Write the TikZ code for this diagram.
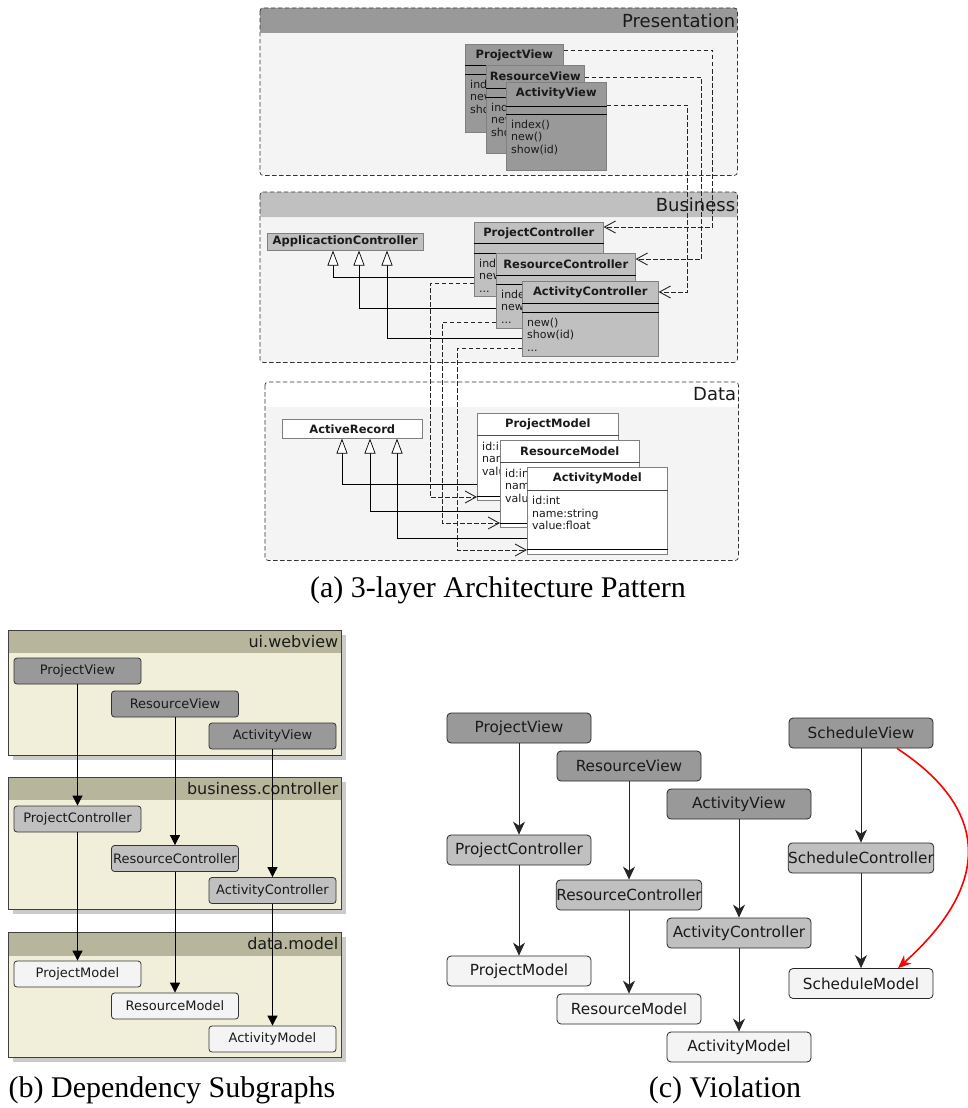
\documentclass[tikz,border=0pt]{standalone}
\usepackage{fontspec}
\setmainfont{DejaVu Sans}
\newfontfamily\captionfont{Liberation Serif}
\usetikzlibrary{arrows.meta,calc,shadows}

\definecolor{viewgray}{HTML}{999999}
\definecolor{ctrlgray}{HTML}{C0C0C0}
\definecolor{modelgray}{HTML}{F4F4F4}
\definecolor{layerbody}{HTML}{F4F4F4}
\definecolor{pkghead}{HTML}{B7B69C}
\definecolor{pkgbody}{HTML}{F1EED9}
\definecolor{pkgshadow}{HTML}{CBCBCB}
\definecolor{ink}{HTML}{1A1A1A}

% layer of the 3-tier class diagram: name, x, y, width, height, header colour, label
\newcommand\layerbox[7]{%
  \node[layerarea, minimum width=#4pt, minimum height=#5pt] (#1) at (#2,#3) {};
  \fill[#6, rounded corners=2pt] (#1.north west) rectangle ($(#1.north east)+(0,25)$);
  \node[layerlabel] (#1-label) at ($(#1.north east)+(-2,12.5)$) {#7};
  \draw[layerframe] (#1.north west) rectangle (#1.south east);
}
% UML class box: name, x, y, width, height, fill, class name
\newcommand\umlclass[7]{%
  \node[classbox, fill=#6, minimum width=#4pt, minimum height=#5pt] (#1) at (#2,#3) {};
  \node[classname] (#1-name) at ($(#1.north)+(0,11)$) {#7};
}
\newcommand\classrule[3][black]{%
  \draw[classsep, draw=#1] ($(#2.north west)+(0,#3)$) -- ($(#2.north east)+(0,#3)$);}
\newcommand\classbody[3]{%
  \node[classtext] (#1-body) at ($(#1.north west)+(5,#2)$) {#3};}
% package frame: name, top, height, header height, label
\newcommand\pkgbox[5]{%
  \node[pkgarea, minimum height=#3pt] (#1) at (8,#2) {};
  \fill[pkghead] (#1.north west) rectangle ($(#1.north east)+(0,#4)$);
  \node[pkglabel] (#1-label) at ($(#1.north east)+(-3,#4/2)$) {#5};
  \draw[pkgframe] (#1.north west) rectangle (#1.south east);
}

\begin{document}
\begin{tikzpicture}[x=1pt, y=-1pt,
  layerarea/.style={fill=layerbody, rounded corners=3pt, anchor=north west, inner sep=0pt},
  layerframe/.style={draw=black!80, dash pattern=on 4.5pt off 2.5pt, line width=0.7pt, rounded corners=3pt},
  layerlabel/.style={anchor=east, inner sep=0pt, text=ink, font=\fontsize{18}{20}\selectfont},
  classbox/.style={draw=black!50, line width=0.6pt, anchor=north west, inner sep=0pt},
  classname/.style={inner sep=0pt, text=ink, font=\fontsize{11.5}{13}\selectfont\bfseries},
  classsep/.style={line width=0.8pt},
  classtext/.style={anchor=north west, inner sep=0pt, align=left, text=ink, font=\fontsize{11}{12.5}\selectfont},
  dep/.style={draw=black!85, dash pattern=on 4.5pt off 2.5pt, line width=0.7pt,
    -{Straight Barb[length=11pt,width=12pt,line width=0.9pt]}},
  inherit/.style={draw=black, line width=0.8pt,
    -{Triangle[length=15pt,width=11pt,fill=white,line width=0.7pt]}},
  pkgarea/.style={fill=pkgbody, anchor=north west, inner sep=0pt, minimum width=333pt,
    drop shadow={shadow xshift=5pt,shadow yshift=-5pt,fill=pkgshadow,opacity=1}},
  pkgframe/.style={draw=black!75, line width=0.8pt},
  pkglabel/.style={anchor=east, inner sep=0pt, text=ink, font=\fontsize{16}{18}\selectfont},
  bnode/.style={draw=black!80, line width=0.8pt, rounded corners=3pt, minimum width=127pt,
    minimum height=26pt, inner sep=0pt, text=ink, font=\fontsize{13}{15}\selectfont},
  barrow/.style={draw=black, line width=0.8pt, -{Triangle[length=10pt,width=10pt]}},
  cnode/.style={draw=black!85, line width=0.8pt, rounded corners=4pt, minimum width=144pt,
    minimum height=30pt, inner sep=0pt, text=ink, font=\fontsize{15.3}{17}\selectfont},
  carrow/.style={draw=black!85, line width=0.9pt, -{Stealth[length=13pt,width=12pt,inset=4pt]}},
  violation/.style={draw=red, line width=1.6pt, -{Stealth[length=13pt,width=11pt,inset=4pt]}},
  caption/.style={inner sep=0pt, text=black, font=\captionfont\fontsize{30}{34}\selectfont}
]
\useasboundingbox (0,0) rectangle (968,1108);

% ---------------- (a) three layers ----------------
\layerbox{pres}{260}{8}{477}{167}{viewgray}{Presentation}
\layerbox{bus}{260}{192}{477}{170}{ctrlgray}{Business}
\layerbox{data}{265}{382}{473}{178}{white}{Data}

% presentation classes
\umlclass{pv}{465}{44}{98}{88}{viewgray}{ProjectView}
\classrule{pv}{21}\classrule{pv}{30}
\classbody{pv}{35.5}{index()\\new()\\show(id)}
\umlclass{rv}{486}{65}{98}{88}{viewgray}{ResourceView}
\classrule{rv}{23}\classrule{rv}{32}
\classbody{rv}{37.5}{index()\\new()\\show(id)}
\umlclass{av}{506}{82}{100}{88}{viewgray}{ActivityView}
\classrule{av}{24}\classrule{av}{32}
\classbody{av}{37.5}{index()\\new()\\show(id)}

% business classes
\node[classbox, fill=ctrlgray, minimum width=156pt, minimum height=17pt,
  font=\fontsize{11.5}{13}\selectfont\bfseries, text=ink] (appc) at (267,233) {ApplicactionController};
\umlclass{pc}{474}{222}{129}{74}{ctrlgray}{ProjectController}
\classrule{pc}{21}\classrule{pc}{31}
\classbody{pc}{36.5}{index()\\new()\\...}
\umlclass{rc}{496}{253}{139}{75}{ctrlgray}{ResourceController}
\classrule{rc}{22}\classrule{rc}{31}
\classbody{rc}{36.5}{index()\\new()\\...}
\umlclass{ac}{522}{281}{136}{75}{ctrlgray}{ActivityController}
\classrule{ac}{22}\classrule{ac}{31}
\classbody{ac}{36.5}{new()\\show(id)\\...}

% data classes
\node[classbox, fill=white, minimum width=140pt, minimum height=19pt,
  font=\fontsize{11.5}{13}\selectfont\bfseries, text=ink] (ar) at (282,419) {ActiveRecord};
\umlclass{pm}{477}{413}{141}{87}{white}{ProjectModel}
\classrule[black!70]{pm}{22}\classrule{pm}{83}
\classbody{pm}{28.5}{id:int\\name:string\\value:float}
\umlclass{rm}{500}{440}{139}{87}{white}{ResourceModel}
\classrule[black!70]{rm}{22}\classrule{rm}{83}
\classbody{rm}{28.5}{id:int\\name:string\\value:float}
\umlclass{am}{527}{467}{140}{87}{white}{ActivityModel}
\classrule[black!70]{am}{23}\classrule{am}{82}
\classbody{am}{29}{id:int\\name:string\\value:float}

% views depend on controllers
\draw[dep] ($(pv.north east)+(0,6)$) -| ($(pc.north east)+(109,5)$) -- ($(pc.north east)+(0,5)$);
\draw[dep] ($(rv.north east)+(0,12)$) -| ($(rc.north east)+(66,6)$) -- ($(rc.north east)+(0,6)$);
\draw[dep] ($(av.north east)+(0,23)$) -| ($(ac.north east)+(29,11)$) -- ($(ac.north east)+(0,11)$);

% controllers inherit from ApplicactionController
\draw[inherit] ($(pc.north west)+(0,55)$) -| ($(appc.south west)+(66,0)$);
\draw[inherit] ($(rc.north west)+(0,55)$) -| ($(appc.south west)+(92,0)$);
\draw[inherit] ($(ac.north west)+(0,57)$) -| ($(appc.south west)+(120,0)$);

% controllers depend on models
\draw[dep] ($(pc.north west)+(0,61)$) -| ($(pm.north west)+(-47,84)$) -- ($(pm.north west)+(0,84)$);
\draw[dep] ($(rc.north west)+(0,69)$) -| ($(rm.north west)+(-58,83)$) -- ($(rm.north west)+(0,83)$);
\draw[dep] ($(ac.north west)+(0,67)$) -| ($(am.north west)+(-70,83)$) -- ($(am.north west)+(0,83)$);

% models inherit from ActiveRecord
\draw[inherit] ($(pm.north west)+(0,71)$) -| ($(ar.south west)+(60,0)$);
\draw[inherit] ($(rm.north west)+(0,71)$) -| ($(ar.south west)+(88,0)$);
\draw[inherit] ($(am.north west)+(0,71)$) -| ($(ar.south west)+(115,0)$);

\node[caption] (capa) at (498,590) {(a) 3-layer Architecture Pattern};

% ---------------- (b) dependency subgraphs ----------------
\pkgbox{ui}{630}{125}{23}{ui.webview}
\pkgbox{bc}{777}{132}{23}{business.controller}
\pkgbox{dm}{932}{125}{24}{data.model}

\node[bnode, fill=viewgray]  (bpv) at (77.5,671)   {ProjectView};
\node[bnode, fill=viewgray]  (brv) at (175,704)    {ResourceView};
\node[bnode, fill=viewgray]  (bav) at (272.5,736)  {ActivityView};
\node[bnode, fill=ctrlgray]  (bpc) at (77.5,819)   {ProjectController};
\node[bnode, fill=ctrlgray]  (brc) at (175,858.5)  {ResourceController};
\node[bnode, fill=ctrlgray]  (bac) at (272.5,890.5){ActivityController};
\node[bnode, fill=modelgray] (bpm) at (77.5,974)   {ProjectModel};
\node[bnode, fill=modelgray] (brm) at (175,1006)   {ResourceModel};
\node[bnode, fill=modelgray] (bam) at (272.5,1039) {ActivityModel};

\draw[barrow] (bpv) -- (bpc);
\draw[barrow] (bpc) -- (bpm);
\draw[barrow] (brv) -- (brc);
\draw[barrow] (brc) -- (brm);
\draw[barrow] (bav) -- (bac);
\draw[barrow] (bac) -- (bam);

\node[caption] (capb) at (172,1090) {(b) Dependency Subgraphs};

% ---------------- (c) violation ----------------
\node[cnode, fill=viewgray]  (cpv) at (519,728)  {ProjectView};
\node[cnode, fill=viewgray]  (crv) at (629,766)  {ResourceView};
\node[cnode, fill=viewgray]  (cav) at (739,804)  {ActivityView};
\node[cnode, fill=viewgray]  (csv) at (861,733)  {ScheduleView};
\node[cnode, fill=ctrlgray]  (cpc) at (519,850)  {ProjectController};
\node[cnode, fill=ctrlgray]  (crc) at (629,895)  {ResourceController};
\node[cnode, fill=ctrlgray]  (cac) at (739,933)  {ActivityController};
\node[cnode, fill=ctrlgray]  (csc) at (861,858)  {ScheduleController};
\node[cnode, fill=modelgray] (cpm) at (519,971)  {ProjectModel};
\node[cnode, fill=modelgray] (crm) at (629,1009) {ResourceModel};
\node[cnode, fill=modelgray] (cam) at (739,1047) {ActivityModel};
\node[cnode, fill=modelgray] (csm) at (861,983.5){ScheduleModel};

\draw[carrow] (cpv) -- (cpc);
\draw[carrow] (cpc) -- (cpm);
\draw[carrow] (crv) -- (crc);
\draw[carrow] (crc) -- (crm);
\draw[carrow] (cav) -- (cac);
\draw[carrow] (cac) -- (cam);
\draw[carrow] (csv) -- (csc);
\draw[carrow] (csc) -- (csm);
\draw[violation] ($(csv.south)+(36,0)$) .. controls (991,810) and (991,885) .. ($(csm.north)+(37,0)$);

\node[caption] (capc) at (725,1090) {(c) Violation};
\end{tikzpicture}
\end{document}
